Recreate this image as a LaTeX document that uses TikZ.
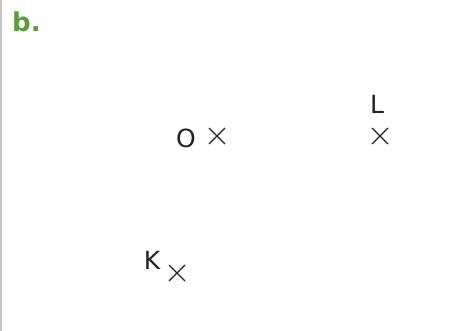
\documentclass[tikz,border=0pt]{standalone}
\usepackage{fontspec}
\usetikzlibrary{calc}
\setmainfont{DejaVu Sans}
\definecolor{lbl}{HTML}{5A9E37}
\definecolor{ink}{HTML}{222222}
\begin{document}
\begin{tikzpicture}[x=1pt,y=-1pt,
  crossmark/.style={draw=ink,line width=1.1pt},
  ptlabel/.style={text=ink,font=\fontsize{25}{28}\selectfont,inner sep=0pt},
]
\useasboundingbox (0,0) rectangle (471,331);
\draw[color=black!22,line width=1.6pt] (1,0) -- (1,331);
\node[text=lbl,font=\bfseries\fontsize{26}{30}\selectfont,anchor=base west,inner sep=0pt] (title) at (12,32) {b.};
% O
\coordinate (xo) at (217,136);
\node[ptlabel,anchor=base] (o) at (186,148) {O};
\draw[crossmark] ($(xo)+(-8,-8)$) -- ($(xo)+(8,8)$) ($(xo)+(-8,8)$) -- ($(xo)+(8,-8)$);
% L
\coordinate (xl) at (380,136);
\node[ptlabel,anchor=base] (l) at (377,114) {L};
\draw[crossmark] ($(xl)+(-8,-8)$) -- ($(xl)+(8,8)$) ($(xl)+(-8,8)$) -- ($(xl)+(8,-8)$);
% K
\coordinate (xk) at (177,273);
\node[ptlabel,anchor=base] (k) at (152,269) {K};
\draw[crossmark] ($(xk)+(-8,-8)$) -- ($(xk)+(8,8)$) ($(xk)+(-8,8)$) -- ($(xk)+(8,-8)$);
\end{tikzpicture}
\end{document}
